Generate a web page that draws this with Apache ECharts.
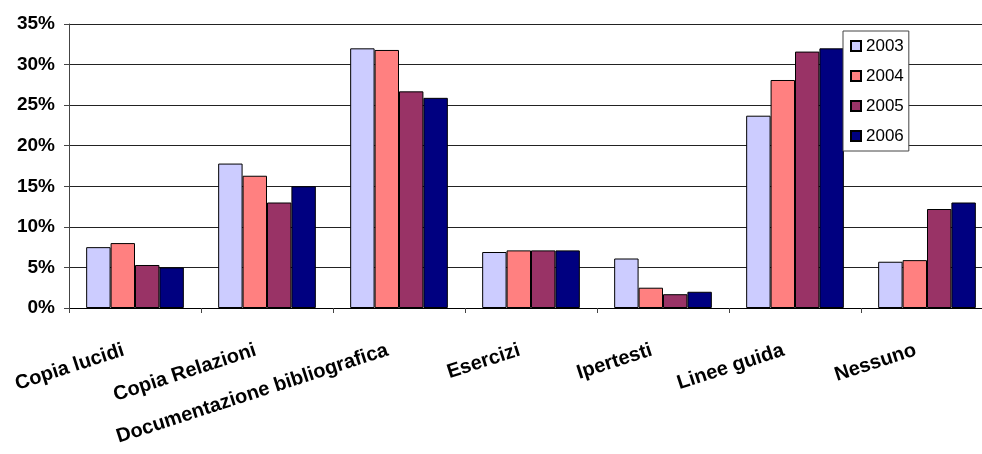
<!DOCTYPE html>
<html>
<head>
<meta charset="utf-8">
<script src="https://cdn.jsdelivr.net/npm/echarts@6/dist/echarts.min.js"></script>
<style>
  html, body { margin: 0; padding: 0; background: #fff; }
  #chart { width: 982px; height: 454px; }
</style>
</head>
<body>
<div id="chart"></div>
<script>
// Categories along the x axis
const categories = ['Copia lucidi', 'Copia Relazioni', 'Documentazione bibliografica',
  'Esercizi', 'Ipertesti', 'Linee guida', 'Nessuno'];

// Yearly shares (percent) per category
const years = ['2003', '2004', '2005', '2006'];
const v2003 = [7.5, 17.8, 32.0, 6.9, 6.1, 23.7, 5.7];
const v2004 = [8.0, 16.3, 31.8, 7.1, 2.5, 28.1, 5.9];
const v2005 = [5.3, 13.0, 26.7, 7.1, 1.7, 31.6, 12.2];
const v2006 = [5.0, 15.0, 25.9, 7.1, 2.0, 32.0, 13.0];

// Y axis ticks
const yMin = 0, yMax = 35, yStep = 5;

const values = [v2003, v2004, v2005, v2006];
const colors = ['#CCCCFF', '#FF8080', '#993366', '#000080'];
const font = '"Liberation Sans", Arial, sans-serif';

const chart = echarts.init(document.getElementById('chart'), null, { renderer: 'canvas' });

chart.setOption({
  animation: false,
  backgroundColor: '#ffffff',
  // plot area runs slightly past the right edge of the canvas
  grid: { left: 69, width: 924, top: 24, bottom: 146, containLabel: false, outerBoundsMode: 'none' },
  legend: {
    orient: 'vertical',
    left: 843,
    top: 31,
    width: 66,
    padding: [6, 5, 6, 7],
    itemWidth: 10,
    itemHeight: 10,
    itemGap: 12,
    borderColor: '#444',
    borderWidth: 1,
    backgroundColor: '#fff',
    icon: 'rect',
    textStyle: { fontFamily: font, fontSize: 17, color: '#000', lineHeight: 18 },
    data: years
  },
  xAxis: {
    type: 'category',
    data: categories,
    axisLine: { show: true, lineStyle: { color: '#000', width: 1 } },
    axisTick: { show: true, length: 5, alignWithLabel: false, lineStyle: { color: '#444' } },
    axisLabel: {
      interval: 0,
      rotate: 18,
      margin: 38,
      padding: [0, 12, 0, 0],
      fontFamily: font,
      fontSize: 20,
      fontWeight: 'bold',
      color: '#000'
    },
    splitLine: { show: false }
  },
  yAxis: {
    type: 'value',
    min: yMin,
    max: yMax,
    interval: yStep,
    axisLine: { show: true, lineStyle: { color: '#444', width: 1 } },
    axisTick: { show: true, length: 5, lineStyle: { color: '#444' } },
    axisLabel: {
      formatter: '{value}%',
      margin: 14,
      fontFamily: font,
      fontSize: 19,
      fontWeight: 'bold',
      color: '#000'
    },
    splitLine: { show: true, lineStyle: { color: '#222', width: 1 } }
  },
  series: years.map((y, i) => ({
    name: y,
    type: 'bar',
    data: values[i],
    barGap: '0%',
    barCategoryGap: '26%',
    itemStyle: { color: colors[i], borderColor: '#000', borderWidth: 1 }
  }))
});
</script>
</body>
</html>
